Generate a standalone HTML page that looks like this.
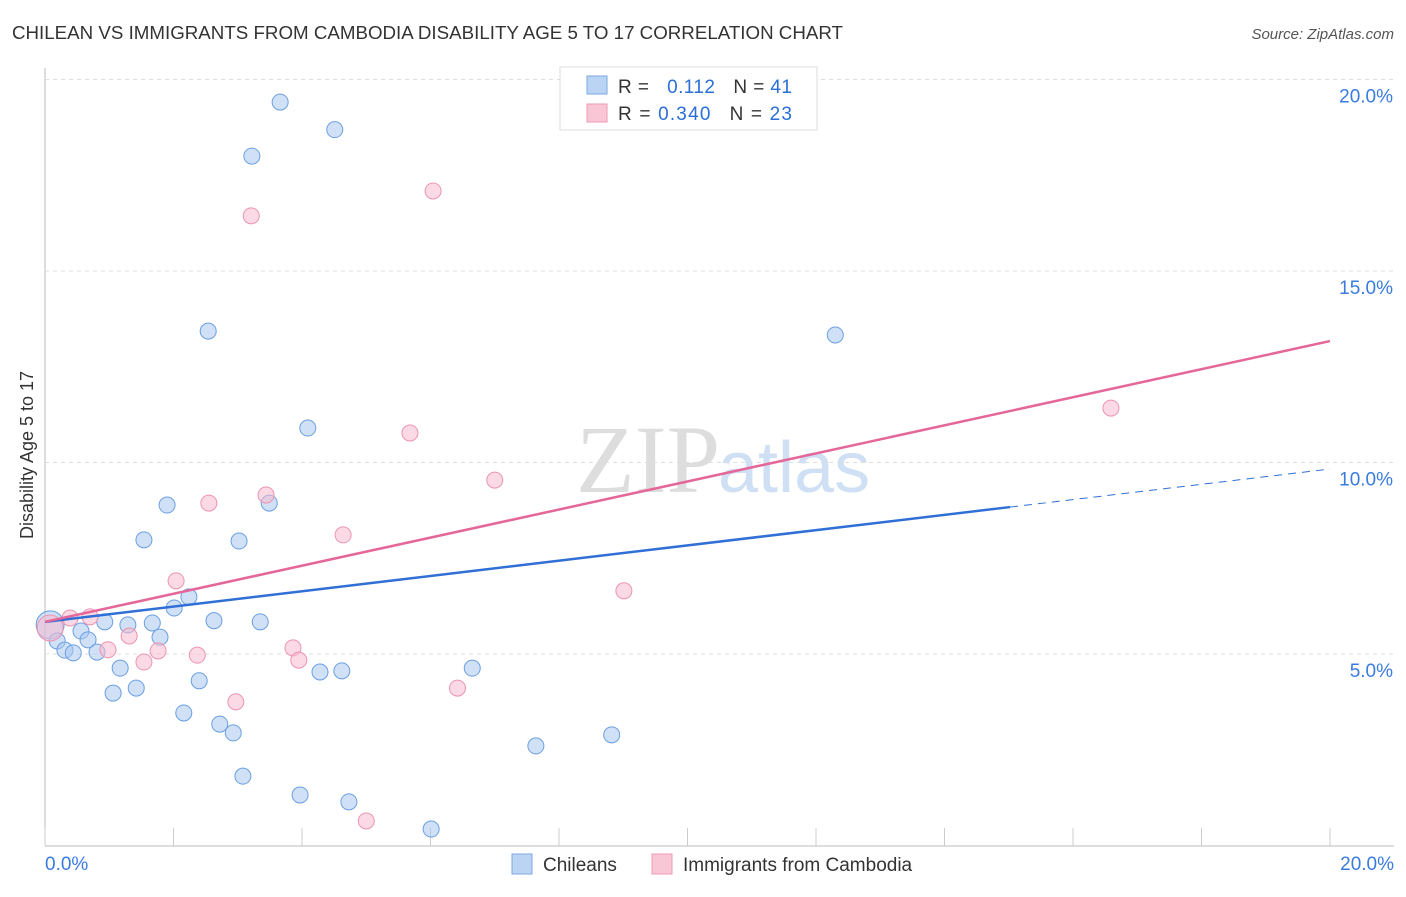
<!DOCTYPE html>
<html><head><meta charset="utf-8"><style>
body{margin:0;background:#fff;font-family:"Liberation Sans",sans-serif;}
</style></head><body>
<svg id="chart" width="1406" height="892" xmlns="http://www.w3.org/2000/svg">
<text x="12" y="39" font-size="18" fill="#333" textLength="831" lengthAdjust="spacingAndGlyphs">CHILEAN VS IMMIGRANTS FROM CAMBODIA DISABILITY AGE 5 TO 17 CORRELATION CHART</text>
<text x="1394" y="39" font-size="15" fill="#555" font-style="italic" text-anchor="end">Source: ZipAtlas.com</text>
<text x="720" y="492" font-size="96" fill="#ddd" text-anchor="end" font-family="Liberation Serif,serif">ZIP</text>
<text x="718" y="492" font-size="72" fill="#cfe0f4">atlas</text>
<text transform="translate(33,455) rotate(-90)" font-size="18" fill="#333" text-anchor="middle">Disability Age 5 to 17</text>
<g id="grid"></g><g id="marks"></g><g id="lines"></g>
<g>
<rect x="560" y="67" width="257" height="63" fill="#fff" stroke="#ddd"/>
<rect x="587" y="76" width="20" height="18" fill="#bcd4f4" stroke="#7aa8e0"/>
<rect x="587" y="104" width="20" height="18" fill="#f9c6d6" stroke="#ee9ab4"/>
<text x="618" y="93" font-size="19" fill="#333" textLength="174" lengthAdjust="spacing">R = <tspan fill="#2a6fd6" dx="12">0.112</tspan><tspan dx="18">N = </tspan><tspan fill="#2a6fd6">41</tspan></text>
<text x="618" y="120" font-size="19" fill="#333" textLength="174" lengthAdjust="spacing">R = <tspan fill="#2a6fd6">0.340</tspan><tspan dx="18">N = </tspan><tspan fill="#2a6fd6">23</tspan></text>
</g>
<g>
<rect x="512" y="854" width="20" height="20" fill="#bcd4f4" stroke="#7aa8e0"/>
<text x="543" y="871" font-size="19" fill="#333">Chileans</text>
<rect x="652" y="854" width="20" height="20" fill="#f9c6d6" stroke="#ee9ab4"/>
<text x="683" y="871" font-size="19" fill="#333">Immigrants from Cambodia</text>
</g>
</svg>
<script>
const yTicks=[5,10,15,20];
const yTickLabels=["5.0%","10.0%","15.0%","20.0%"];
const xTickLabels=["0.0%","20.0%"];
const blueX=[0.08,0.19,0.31,0.44,0.56,0.67,0.81,0.93,1.06,1.17,1.29,1.42,1.67,1.79,1.90,2.01,2.16,2.24,2.40,2.54,2.63,2.72,2.93,3.02,3.08,3.22,3.35,3.49,3.66,3.97,4.09,4.28,4.51,4.62,4.73,6.01,6.65,7.64,8.82,12.30,1.54];
const blueY=[5.76,5.34,5.10,5.03,5.60,5.37,5.05,5.84,3.98,4.63,5.76,4.11,5.81,5.44,8.89,6.20,3.46,6.49,4.30,13.43,5.87,3.17,2.94,7.95,1.81,18.00,5.84,8.94,19.41,1.32,10.90,4.53,18.69,4.56,1.14,0.43,4.63,2.60,2.89,13.33,7.98];
const pinkX=[0.08,0.39,0.70,0.98,1.31,1.54,1.76,2.04,2.37,2.55,2.97,3.21,3.44,3.86,3.95,4.64,5.00,5.68,6.04,6.42,7.00,9.01,16.59];
const pinkY=[5.68,5.94,5.97,5.11,5.47,4.79,5.08,6.91,4.97,8.94,3.75,16.44,9.15,5.16,4.84,8.11,0.64,10.77,17.09,4.11,9.54,6.65,11.42];
const blueTrend=[5.84,9.83];
const pinkTrend=[5.84,13.17];
const NS="http://www.w3.org/2000/svg";
const X0=45,X1=1330,Y0=845.5,PY=191.5/5;
function sx(v){return X0+(X1-X0)*v/20;}
function sy(v){return Y0-v*PY;}
function mk(t,a,p){const e=document.createElementNS(NS,t);for(const k in a)e.setAttribute(k,a[k]);p.appendChild(e);return e;}
const grid=document.getElementById('grid'),marks=document.getElementById('marks'),lines=document.getElementById('lines');
mk('line',{x1:X0,y1:68,x2:X0,y2:846,stroke:'#bbb'},grid);
mk('line',{x1:X0,y1:846,x2:1394,y2:846,stroke:'#bbb'},grid);
for(let i=0;i<=10;i++){mk('line',{x1:sx(i*2),y1:828,x2:sx(i*2),y2:846,stroke:'#ccc'},grid);}
yTicks.forEach((t,i)=>{
 const g=mk('line',{x1:X0,y1:sy(t),x2:1394,y2:sy(t),stroke:'#ddd','stroke-dasharray':'4,4'},grid);
 
 
 const tx=mk('text',{x:1393,y:sy(t)+23,'font-size':19,fill:'#3a7be0','text-anchor':'end'},grid);
 tx.textContent=yTickLabels[i];
 
 
});
[[45,'start'],[1394,'end']].forEach((p,i)=>{const t=mk('text',{x:p[0],y:870,'font-size':19,fill:'#3a7be0','text-anchor':p[1]},grid);t.textContent=xTickLabels[i];
 
 });
blueX.forEach((v,i)=>{const c=mk('circle',{cx:sx(v),cy:sy(blueY[i]),r:i==0?14:8,fill:'#a9c8f1','fill-opacity':0.55,stroke:'#6a9fe0','stroke-width':1},marks);
 
 });
pinkX.forEach((v,i)=>{const c=mk('circle',{cx:sx(v),cy:sy(pinkY[i]),r:i==0?13:8,fill:'#f7bcd0','fill-opacity':0.55,stroke:'#ec94b0','stroke-width':1},marks);
 
 });
const xs=15.02,bm=blueTrend[0]+(blueTrend[1]-blueTrend[0])*xs/20;
const bl=mk('line',{x1:sx(0),y1:sy(blueTrend[0]),x2:sx(xs),y2:sy(bm),stroke:'#2f6fd6','stroke-width':2.5},lines);


const bd=mk('line',{x1:sx(xs),y1:sy(bm),x2:sx(20),y2:sy(blueTrend[1]),stroke:'#2f6fd6','stroke-width':1,'stroke-dasharray':'8,6'},lines);


const pl=mk('line',{x1:sx(0),y1:sy(pinkTrend[0]),x2:sx(20),y2:sy(pinkTrend[1]),stroke:'#e5679a','stroke-width':2.5},lines);


</script>
</body></html>
